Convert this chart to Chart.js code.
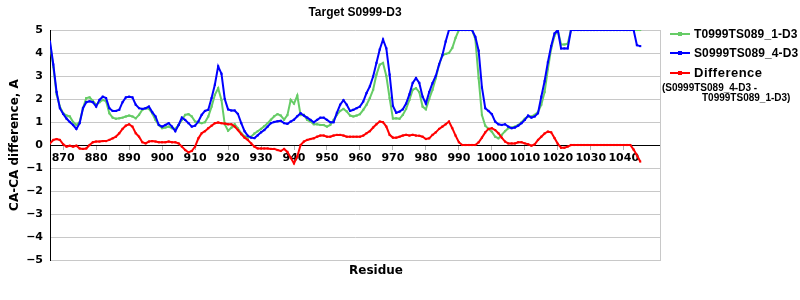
<!DOCTYPE html>
<html lang="en">
<head>
    <meta charset="UTF-8">
    <title>Target S0999-D3</title>
    <script src="https://cdn.jsdelivr.net/npm/chart.js"></script>
    <style>
        body {
            margin: 0;
            background: #fff;
        }

        .wrap {
            position: relative;
            width: 800px;
            height: 300px;
        }

        .legend .t {
            position: absolute;
            white-space: nowrap;
            font-family: 'Liberation Sans', Arial, sans-serif;
            font-weight: bold;
            color: #000;
            line-height: 14px;
        }

        .legend .main {
            font-size: 12px;
            letter-spacing: 0.1px;
        }

        .legend .big {
            font-size: 13px;
            letter-spacing: 0.5px;
        }

        .legend .sub {
            font-size: 10px;
            letter-spacing: 0;
        }

        .legend .sw {
            position: absolute;
            left: 670px;
            width: 20px;
            height: 2px;
        }

        .legend .sw i {
            position: absolute;
            left: 8px;
            top: -1px;
            width: 4px;
            height: 4px;
            background: inherit;
        }
    </style>
</head>
<body>
    <div class="wrap">
        <canvas id="chart" width="800" height="300"></canvas>
        <div class="legend">
            <div class="sw" style="top: 33px; background: #66cc66;"><i></i></div>
            <div class="t main" style="left: 694px; top: 27px;">T0999TS089_1-D3</div>
            <div class="sw" style="top: 52px; background: #0000ff;"><i></i></div>
            <div class="t main" style="left: 694px; top: 46px;">S0999TS089_4-D3</div>
            <div class="sw" style="top: 72px; background: #ff0000;"><i></i></div>
            <div class="t big" style="left: 694px; top: 66px;">Difference</div>
            <div class="t sub" style="left: 662px; top: 81px;">(S0999TS089_4-D3 -</div>
            <div class="t sub" style="left: 702px; top: 91px;">T0999TS089_1-D3)</div>
        </div>
    </div>

    <script>
        // residue numbers 866 .. 1045
        const firstResidue = 866;
        const xTicks = [870, 880, 890, 900, 910, 920, 930, 940, 950, 960, 970, 980, 990,
            1000, 1010, 1020, 1030, 1040];
        const yTicks = [-5, -4, -3, -2, -1, 0, 1, 2, 3, 4, 5];

        // T0999TS089_1-D3
        const greenValues = [
            4.4, 3.4, 2.2, 1.67, 1.38, 1.28, 1.24, 1.0, 0.87, 1.0,          // 866
            1.6, 2.04, 2.07, 1.92, 1.75, 1.86, 1.96, 1.9, 1.38, 1.19,       // 876
            1.14, 1.16, 1.19, 1.24, 1.28, 1.24, 1.16, 1.31, 1.53, 1.6,      // 886
            1.57, 1.38, 1.09, 0.87, 0.73, 0.76, 0.8, 0.73, 0.7, 0.87,       // 896
            1.09, 1.31, 1.34, 1.24, 1.02, 0.99, 0.95, 0.99, 1.24, 1.67,     // 906
            2.18, 2.47, 1.96, 0.9, 0.62, 0.75, 0.9, 0.72, 0.51, 0.38,       // 916
            0.32, 0.36, 0.5, 0.6, 0.7, 0.82, 0.95, 1.1, 1.25, 1.34,         // 926
            1.28, 1.1, 1.3, 1.96, 1.8, 2.15, 1.3, 1.31, 1.09, 1.02,         // 936
            0.9, 0.9, 0.87, 0.87, 0.8, 0.87, 1.09, 1.31, 1.48, 1.57,        // 946
            1.46, 1.28, 1.24, 1.28, 1.34, 1.53, 1.75, 2.04, 2.4, 3.06,      // 956
            3.49, 3.57, 3.0, 2.04, 1.15, 1.16, 1.14, 1.31, 1.57, 1.96,      // 966
            2.4, 2.47, 2.3, 1.67, 1.55, 2.0, 2.4, 2.9, 3.5, 3.9,            // 976
            3.96, 4.0, 4.22, 4.66, 5, 5, 5, 5, 5, 4.6,                      // 986
            2.9, 1.3, 0.84, 0.7, 0.58, 0.36, 0.29, 0.44, 0.6, 0.73,         // 996
            0.76, 0.8, 0.87, 0.99, 1.14, 1.24, 1.24, 1.31, 1.43, 1.75,      // 1006
            2.3, 3.3, 4.2, 4.75, 5, 4.37, 4.37, 4.4, 5, 5,                  // 1016
            5, 5, 5, 5, 5, 5, 5, 5, 5, 5,                                   // 1026
            5, 5, 5, 5, 5, 5, 5, 5, 5, 5                                    // 1036
        ];

        // S0999TS089_4-D3
        const blueValues = [
            4.5, 3.5, 2.3, 1.6, 1.35, 1.15, 1.0, 0.87, 0.7, 0.95,           // 866
            1.6, 1.86, 1.9, 1.86, 1.67, 1.96, 2.1, 2.04, 1.6, 1.48,         // 876
            1.48, 1.53, 1.86, 2.07, 2.1, 2.07, 1.75, 1.6, 1.57, 1.6,        // 886
            1.67, 1.43, 1.24, 0.87, 0.8, 0.87, 0.95, 0.8, 0.6, 0.87,        // 896
            1.19, 1.09, 0.95, 0.8, 0.84, 1.02, 1.31, 1.48, 1.53, 2.04,      // 906
            2.62, 3.42, 3.1, 2.0, 1.55, 1.5, 1.5, 1.35, 0.95, 0.6,          // 916
            0.4, 0.32, 0.3, 0.42, 0.55, 0.65, 0.8, 0.95, 1.0, 1.03,         // 926
            1.05, 0.95, 0.92, 1.02, 1.1, 1.25, 1.38, 1.28, 1.19, 1.09,      // 936
            0.99, 1.09, 1.19, 1.19, 1.09, 0.99, 0.99, 1.4, 1.75, 1.95,      // 946
            1.75, 1.48, 1.53, 1.6, 1.67, 1.89, 2.26, 2.55, 2.98, 3.57,      // 956
            4.15, 4.59, 4.2, 3.06, 1.7, 1.4, 1.45, 1.55, 1.8, 2.2,          // 966
            2.7, 2.91, 2.7, 2.1, 1.8, 2.3, 2.69, 3.0, 3.5, 3.9,             // 976
            4.5, 5, 5, 5, 5, 5, 5, 5, 5, 4.7,                               // 986
            4.1, 2.5, 1.6, 1.48, 1.34, 1.02, 0.9, 0.87, 0.9, 0.8,           // 996
            0.73, 0.76, 0.84, 0.95, 1.09, 1.28, 1.19, 1.24, 1.38, 2.1,      // 1006
            2.77, 3.6, 4.3, 4.85, 5, 4.2, 4.2, 4.2, 5, 5,                   // 1016
            5, 5, 5, 5, 5, 5, 5, 5, 5, 5,                                   // 1026
            5, 5, 5, 5, 5, 5, 5, 5, 4.34, 4.3                               // 1036
        ];

        // Difference (S0999TS089_4-D3 - T0999TS089_1-D3)
        const diffValues = [
            0.07, 0.22, 0.26, 0.22, 0.03, -0.07, -0.03, -0.07, -0.03, -0.15,  // 866
            -0.17, -0.15, 0.0, 0.12, 0.15, 0.15, 0.17, 0.17, 0.22, 0.29,      // 876
            0.36, 0.51, 0.7, 0.84, 0.9, 0.8, 0.51, 0.36, 0.12, 0.07,          // 886
            0.15, 0.17, 0.15, 0.12, 0.12, 0.12, 0.15, 0.12, 0.12, 0.07,       // 896
            -0.07, -0.22, -0.32, -0.26, -0.07, 0.29, 0.51, 0.6, 0.73, 0.84,   // 906
            0.95, 0.98, 0.95, 0.93, 0.9, 0.9, 0.8, 0.65, 0.47, 0.32,          // 916
            0.22, 0.07, -0.07, -0.15, -0.15, -0.15, -0.15, -0.17, -0.17, -0.22, // 926
            -0.26, -0.17, -0.3, -0.55, -0.8, -0.5, 0.0, 0.15, 0.22, 0.26,     // 936
            0.29, 0.36, 0.41, 0.41, 0.36, 0.36, 0.41, 0.44, 0.44, 0.41,       // 946
            0.36, 0.36, 0.36, 0.36, 0.36, 0.41, 0.51, 0.6, 0.76, 0.9,         // 956
            1.02, 0.99, 0.8, 0.44, 0.32, 0.32, 0.36, 0.41, 0.44, 0.41,        // 966
            0.44, 0.41, 0.4, 0.36, 0.26, 0.29, 0.44, 0.55, 0.7, 0.8,          // 976
            0.9, 1.02, 0.73, 0.41, 0.12, 0, 0, 0, 0, 0,                       // 986
            0.12, 0.32, 0.55, 0.7, 0.73, 0.65, 0.51, 0.32, 0.15, 0.07,        // 996
            0.07, 0.07, 0.12, 0.12, 0.07, 0.03, -0.03, 0.03, 0.22, 0.36,      // 1006
            0.5, 0.58, 0.55, 0.3, 0.05, -0.12, -0.12, -0.07, 0, 0,            // 1016
            0, 0, 0, 0, 0, 0, 0, 0, 0, 0,                                     // 1026
            0, 0, 0, 0, 0, 0, 0, -0.2, -0.45, -0.72                           // 1036
        ];

        const residues = greenValues.map((_, i) => firstResidue + i);
        const toPoints = (values) => values.map((v, i) => ({ x: residues[i], y: v }));

        const tickFont = { family: "'DejaVu Sans', Verdana, sans-serif", size: 11, weight: 'bold' };

        // "Residue" label sits under the plot, a bit right of centre like the original
        const residueLabel = {
            id: 'residueLabel',
            afterDraw(chart) {
                const c = chart.ctx;
                c.save();
                c.font = "bold 12px 'DejaVu Sans', Verdana, sans-serif";
                c.fillStyle = '#000';
                c.textAlign = 'center';
                c.textBaseline = 'middle';
                c.fillText('Residue', 376, 271);
                c.restore();
            }
        };

        function line(label, values, color, order) {
            return {
                label: label,
                data: toPoints(values),
                borderColor: color,
                backgroundColor: color,
                borderWidth: 2,
                pointStyle: 'rect',
                pointRadius: 1.5,
                pointBorderWidth: 0,
                pointBackgroundColor: color,
                order: order,
            };
        }

        new Chart(document.getElementById('chart'), {
            type: 'line',
            data: {
                datasets: [
                    line('T0999TS089_1-D3', greenValues, '#66cc66', 2),
                    line('S0999TS089_4-D3', blueValues, '#0000ff', 1),
                    line('Difference', diffValues, '#ff0000', 0),
                ],
            },
            options: {
                responsive: false,
                animation: false,
                layout: { padding: { left: 0, right: 140, top: 0, bottom: 40 } },
                plugins: {
                    legend: { display: false },
                    tooltip: { enabled: false },
                    title: {
                        display: true,
                        fullSize: false,
                        text: 'Target S0999-D3',
                        color: '#000',
                        font: { family: "'Liberation Sans', Arial, sans-serif", size: 12, weight: 'bold' },
                        padding: { top: 5, bottom: 10.6 },
                    },
                },
                scales: {
                    x: {
                        type: 'linear',
                        min: 866,
                        max: 1051,
                        position: { y: 0 },
                        afterBuildTicks: (s) => { s.ticks = xTicks.map((v) => ({ value: v })); },
                        ticks: {
                            font: tickFont,
                            color: '#000',
                            autoSkip: false,
                            maxRotation: 0,
                            padding: 3,
                            callback: (v) => String(v),
                        },
                        grid: { drawOnChartArea: false, drawTicks: true, tickLength: 4, color: '#b0b0b0' },
                        border: { color: '#000', width: 1 },
                    },
                    y: {
                        min: -5,
                        max: 5,
                        afterBuildTicks: (s) => { s.ticks = yTicks.map((v) => ({ value: v })); },
                        afterFit: (s) => { s.width = 50; },
                        ticks: {
                            font: tickFont,
                            color: '#000',
                            padding: 7,
                            callback: (v) => (v < 0 ? '\u2212' + Math.abs(v) : String(v)),
                        },
                        grid: {
                            drawTicks: false,
                            color: (ctx) => (ctx.tick && ctx.tick.value === 0 ? '#000' : '#c8c8c8'),
                        },
                        border: { color: '#000', width: 1 },
                        title: {
                            display: true,
                            text: 'CA-CA difference, A',
                            color: '#000',
                            font: { family: "'DejaVu Sans', Verdana, sans-serif", size: 12, weight: 'bold' },
                            padding: { top: 8, bottom: 0 },
                        },
                    },
                    yr: {
                        position: 'right',
                        min: -5,
                        max: 5,
                        ticks: { display: false },
                        grid: { display: false },
                        border: { color: '#c8c8c8', width: 1 },
                        afterFit: (s) => { s.width = 0; },
                    },
                },
            },
            plugins: [residueLabel],
        });
    </script>
</body>
</html>
